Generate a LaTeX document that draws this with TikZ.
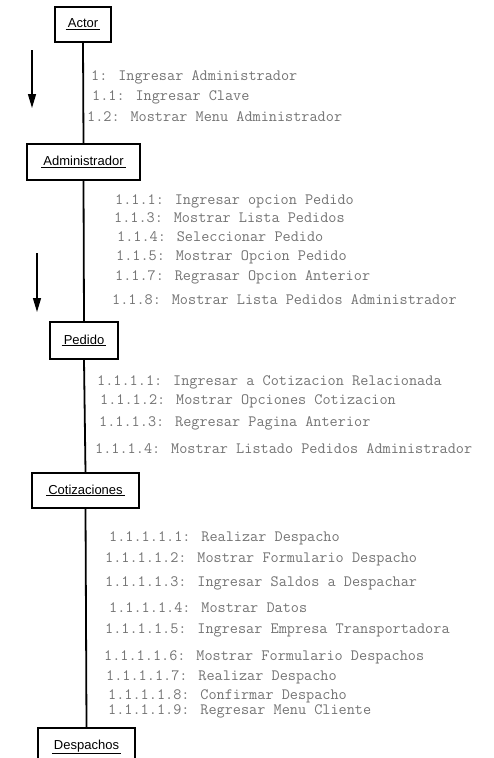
\documentclass[tikz,border=0pt]{standalone}
\usepackage{fontspec}
\setmainfont{Liberation Sans}
\usetikzlibrary{arrows.meta}
\definecolor{msggray}{RGB}{115,115,115}
\tikzset{
  obj/.style={draw, line width=1.6pt, rectangle, inner sep=0pt, font=\fontsize{13}{15}\selectfont},
  msg/.style={anchor=west, inner sep=0pt, text=msggray, font=\ttfamily\fontsize{15.8}{17}\selectfont},
  life/.style={line width=1.8pt},
  flow/.style={line width=1.3pt, -{Triangle[length=14pt,width=8pt]}}
}
\begin{document}
\begin{tikzpicture}[x=1pt,y=-1pt]
\clip (0,0) rectangle (493,758);
% objetos
\node[obj, minimum width=56pt, minimum height=35pt] (actor) at (83,24.5) {\underline{\,Actor\,}};
\node[obj, minimum width=113pt, minimum height=36pt] (admin) at (83.5,162) {\underline{\,Administrador\,}};
\node[obj, minimum width=68pt, minimum height=37pt] (pedido) at (84,340.5) {\underline{\,Pedido\,}};
\node[obj, minimum width=107pt, minimum height=35pt] (cotiz) at (85.5,490.5) {\underline{\,Cotizaciones\,}};
\node[obj, minimum width=97pt, minimum height=38pt] (desp) at (86.5,747) {\underline{\,Despachos\,}};
% lineas de vida
\draw[life] (actor.south) -- (admin.north);
\draw[life] (admin.south) -- (pedido.north);
\draw[life] (pedido.south) -- (cotiz.north);
\draw[life] (cotiz.south) -- (desp.north);
% flechas de secuencia
\coordinate (f1a) at (32,50);
\coordinate (f1b) at (32,108);
\coordinate (f2a) at (37,253);
\coordinate (f2b) at (37,312);
\draw[flow] (f1a) -- (f1b);
\draw[flow] (f2a) -- (f2b);
% mensajes Actor - Administrador
\node[msg] (m1) at (91,77) {1: Ingresar Administrador};
\node[msg] (m11) at (92,97) {1.1: Ingresar Clave};
\node[msg] (m12) at (87,117) {1.2: Mostrar Menu Administrador};
% mensajes Administrador - Pedido
\node[msg] (m111) at (115,201) {1.1.1: Ingresar opcion Pedido};
\node[msg] (m113) at (114,218) {1.1.3: Mostrar Lista Pedidos};
\node[msg] (m114) at (117,237) {1.1.4: Seleccionar Pedido};
\node[msg] (m115) at (116,257) {1.1.5: Mostrar Opcion Pedido};
\node[msg] (m117) at (115,277) {1.1.7: Regrasar Opcion Anterior};
\node[msg] (m118) at (112,300) {1.1.8: Mostrar Lista Pedidos Administrador};
% mensajes Pedido - Cotizaciones
\node[msg] (m1111) at (97,382) {1.1.1.1: Ingresar a Cotizacion Relacionada};
\node[msg] (m1112) at (100,401) {1.1.1.2: Mostrar Opciones Cotizacion};
\node[msg] (m1113) at (99,423) {1.1.1.3: Regresar Pagina Anterior};
\node[msg] (m1114) at (95,449) {1.1.1.4: Mostrar Listado Pedidos Administrador};
% mensajes Cotizaciones - Despachos
\node[msg] (d1) at (109,538) {1.1.1.1.1: Realizar Despacho};
\node[msg] (d2) at (105,559) {1.1.1.1.2: Mostrar Formulario Despacho};
\node[msg] (d3) at (105,583) {1.1.1.1.3: Ingresar Saldos a Despachar};
\node[msg] (d4) at (109,608) {1.1.1.1.4: Mostrar Datos};
\node[msg] (d5) at (105,630) {1.1.1.1.5: Ingresar Empresa Transportadora};
\node[msg] (d6) at (104,657) {1.1.1.1.6: Mostrar Formulario Despachos};
\node[msg] (d7) at (106,677) {1.1.1.1.7: Realizar Despacho};
\node[msg] (d8) at (108,696) {1.1.1.1.8: Confirmar Despacho};
\node[msg] (d9) at (108,711) {1.1.1.1.9: Regresar Menu Cliente};
\end{tikzpicture}
\end{document}
